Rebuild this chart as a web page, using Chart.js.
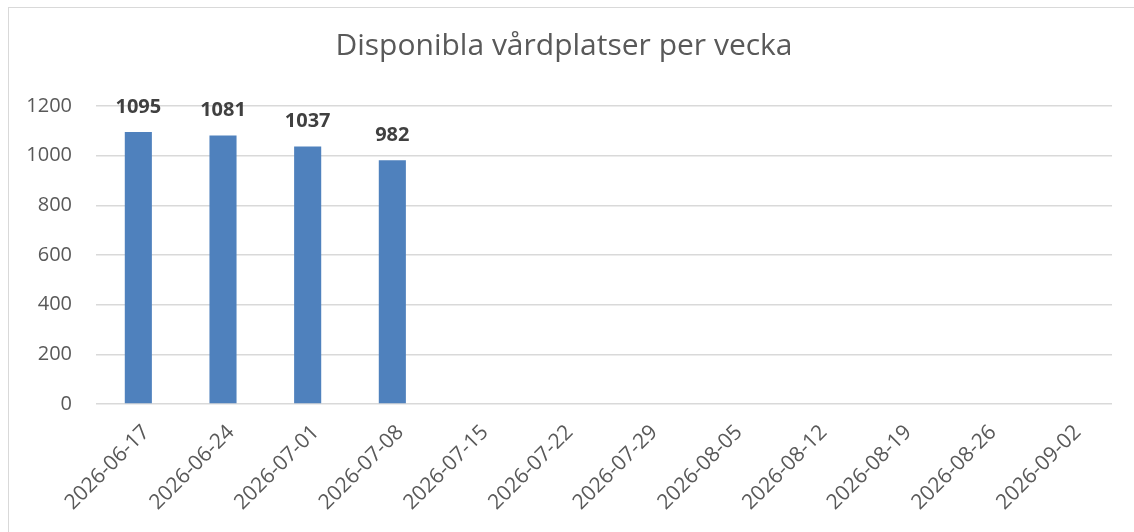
<!DOCTYPE html>
<html>
<head>
<meta charset="utf-8">
<script src="https://cdn.jsdelivr.net/npm/chart.js@4"></script>
<style>
  html, body { margin: 0; padding: 0; background: #fff; overflow: hidden; }
  #wrap { position: relative; width: 1134px; height: 532px; }
  #frame { position: absolute; left: 8px; top: 7px; width: 1140px; height: 540px;
           border: 1px solid #d9d9d9; pointer-events: none; }
</style>
</head>
<body>
<div id="wrap">
  <canvas id="chart" width="1134" height="532"></canvas>
  <div id="frame"></div>
</div>
<script>
// weeks and available beds (only first four weeks reported)
const weeks = ['2026-06-17','2026-06-24','2026-07-01','2026-07-08','2026-07-15','2026-07-22',
               '2026-07-29','2026-08-05','2026-08-12','2026-08-19','2026-08-26','2026-09-02'];
const beds = [1095, 1081, 1037, 982, null, null, null, null, null, null, null, null];
const yTicks = [0, 200, 400, 600, 800, 1000, 1200];

const FONT = "'Open Sans', sans-serif";

// draws the bold value above every bar
const valueLabels = {
  id: 'valueLabels',
  afterDatasetsDraw(chart){
    const c = chart.ctx;
    const meta = chart.getDatasetMeta(0);
    c.save();
    c.font = `bold 20px ${FONT}`;
    c.fillStyle = '#404040';
    c.textAlign = 'center';
    c.textBaseline = 'middle';
    meta.data.forEach((bar, i) => {
      const v = beds[i];
      if (v == null) return;
      c.fillText(String(v), bar.x, bar.y - 25);
    });
    c.restore();
  }
};

new Chart(document.getElementById('chart').getContext('2d'), {
  type: 'bar',
  data: {
    labels: weeks,
    datasets: [{
      data: beds,
      backgroundColor: '#4f81bd',
      barPercentage: 0.32,
      categoryPercentage: 1
    }]
  },
  plugins: [valueLabels],
  options: {
    responsive: false,
    animation: false,
    layout: { padding: { top: 28, right: 22, left: 16, bottom: 0 } },
    plugins: {
      legend: { display: false },
      tooltip: { enabled: false },
      title: {
        display: true,
        text: 'Disponibla vårdplatser per vecka',
        color: '#595959',
        font: { family: FONT, size: 30, weight: 'normal', lineHeight: 1.2 },
        padding: { top: 0, bottom: 42 }
      }
    },
    scales: {
      x: {
        grid: { display: false },
        border: { display: false },
        afterFit: s => { s.height = 128; },
        ticks: {
          color: '#595959',
          font: { family: FONT, size: 21 },
          minRotation: 45,
          maxRotation: 45,
          padding: 8,
          labelOffset: 8
        }
      },
      y: {
        min: 0,
        max: 1200,
        afterFit: s => { s.width = 80; },
        afterBuildTicks: s => { s.ticks = yTicks.map(v => ({ value: v })); },
        border: { display: false },
        grid: { color: '#d9d9d9', lineWidth: 1.5, drawTicks: false },
        ticks: {
          color: '#595959',
          font: { family: FONT, size: 20 },
          padding: 24,
          callback: v => String(v)
        }
      }
    }
  }
});
</script>
</body>
</html>
